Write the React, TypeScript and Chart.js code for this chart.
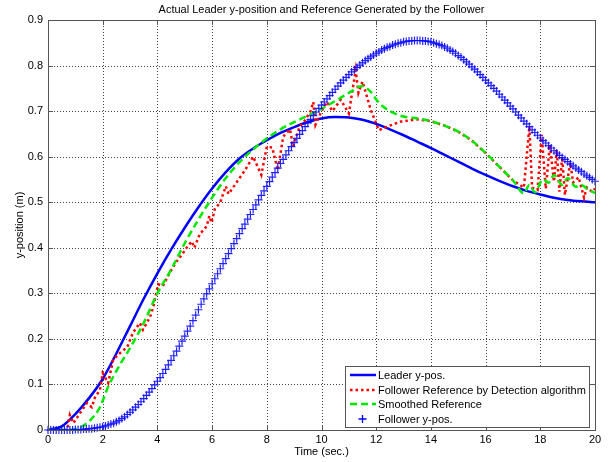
import React, { useEffect, useRef } from "react";
import { Chart, registerables } from "chart.js";
Chart.register(...registerables);

const TITLE = "Actual Leader y-position and Reference Generated by the Follower";
const X_LABEL = "Time (sec.)";
const Y_LABEL = "y-position (m)";
const X_TICKS = [0, 2, 4, 6, 8, 10, 12, 14, 16, 18, 20];
const Y_TICKS = [0, 0.1, 0.2, 0.3, 0.4, 0.5, 0.6, 0.7, 0.8, 0.9];
const Y_TICK_LABELS = ["0", "0.1", "0.2", "0.3", "0.4", "0.5", "0.6", "0.7", "0.8", "0.9"];

const LEADER_LABEL = "Leader y-pos.";
const DETECT_LABEL = "Follower Reference by Detection algorithm";
const SMOOTH_LABEL = "Smoothed Reference";
const FOLLOWER_LABEL = "Follower y-pos.";

// Leader y-position, sampled every 0.5 s
const leaderT = [0, 0.5, 1, 1.5, 2, 2.5, 3, 3.5, 4, 4.5, 5, 5.5, 6, 6.5, 7, 7.5, 8, 8.5, 9, 9.5, 10,
  10.5, 11, 11.5, 12, 12.5, 13, 13.5, 14, 14.5, 15, 15.5, 16, 16.5, 17, 17.5, 18, 18.5, 19, 19.5, 20];
const leaderY = [0, 0.008, 0.035, 0.07, 0.112, 0.168, 0.228, 0.288, 0.344, 0.396, 0.444, 0.489, 0.53,
  0.566, 0.596, 0.618, 0.636, 0.652, 0.665, 0.676, 0.684, 0.687, 0.686, 0.681, 0.672, 0.66, 0.647,
  0.633, 0.619, 0.604, 0.589, 0.574, 0.56, 0.547, 0.535, 0.525, 0.517, 0.51, 0.505, 0.502, 0.5];

// Follower reference from the detection algorithm
const detectT = [0, 0.7, 0.8, 0.93, 1.17, 1.42, 1.6, 1.72, 1.9, 2.0, 2.2, 2.38, 2.63, 2.9, 3.1, 3.36,
  3.47, 3.73, 3.85, 4.03, 4.2, 4.45, 4.7, 4.9, 5.1, 5.26, 5.35, 5.55, 5.8, 5.9, 5.98, 6.1, 6.3, 6.5,
  6.6, 6.9, 7.2, 7.5, 7.8, 8.0, 8.2, 8.4, 8.6, 8.85, 8.96, 9.2, 9.4, 9.6, 9.7, 9.78, 10.0, 10.2, 10.4,
  10.7, 11.0, 11.25, 11.35, 11.5, 11.8, 12.1, 12.4, 12.9, 13.5, 14.0, 14.5, 15.0, 15.5, 16.0, 16.5,
  17.0, 17.4, 17.6, 17.7, 17.9, 18.05, 18.2, 18.35, 18.5, 18.6, 18.7, 18.8, 18.9, 19.1, 19.2, 19.4,
  19.6, 19.7, 19.9, 20.0];
const detectY = [0, 0, 0.033, 0.015, 0.037, 0.059, 0.05, 0.072, 0.088, 0.125, 0.103, 0.154, 0.169,
  0.182, 0.213, 0.235, 0.22, 0.248, 0.27, 0.32, 0.316, 0.345, 0.37, 0.385, 0.403, 0.414, 0.4, 0.43,
  0.447, 0.47, 0.455, 0.485, 0.5, 0.535, 0.518, 0.544, 0.57, 0.6, 0.56, 0.622, 0.62, 0.57, 0.644,
  0.66, 0.622, 0.666, 0.68, 0.7, 0.72, 0.67, 0.7, 0.72, 0.7, 0.725, 0.695, 0.79, 0.74, 0.765, 0.703,
  0.658, 0.666, 0.677, 0.682, 0.678, 0.668, 0.655, 0.635, 0.608, 0.578, 0.548, 0.532, 0.666, 0.532,
  0.527, 0.648, 0.53, 0.626, 0.545, 0.615, 0.523, 0.6, 0.516, 0.587, 0.543, 0.555, 0.51, 0.532, 0.523,
  0.53];

// Smoothed reference
const smoothT = [0, 0.5, 1.0, 1.3, 1.6, 1.9, 2.2, 2.6, 3.0, 3.5, 4.0, 4.5, 5.0, 5.5, 6.0, 6.5, 7.0, 7.5,
  8.0, 8.5, 9.0, 9.5, 10.0, 10.5, 11.0, 11.5, 11.8, 12.1, 12.5, 13.0, 13.5, 14.0, 14.5, 15.0, 15.5,
  16.0, 16.5, 17.0, 17.4, 17.6, 17.8, 18.1, 18.3, 18.5, 18.8, 19.0, 19.3, 19.5, 19.7, 20.0];
const smoothY = [0, 0, 0.002, 0.01, 0.025, 0.05, 0.095, 0.14, 0.18, 0.235, 0.3, 0.352, 0.41, 0.462,
  0.51, 0.553, 0.588, 0.616, 0.64, 0.66, 0.676, 0.69, 0.705, 0.722, 0.74, 0.755, 0.742, 0.718, 0.7,
  0.688, 0.684, 0.678, 0.668, 0.655, 0.635, 0.608, 0.578, 0.548, 0.52, 0.538, 0.522, 0.55, 0.543,
  0.56, 0.538, 0.553, 0.534, 0.538, 0.53, 0.52];

// Follower y-position, sampled every 0.1 s from 0 to 20 s
const FOLLOWER_DT = 0.1;
const followerY = [
  0, 0, 0, 0, 0, 0, 0, 0, 0, 0, 0.001,
  0.001, 0.001, 0.002, 0.002, 0.003, 0.003, 0.004, 0.005, 0.006, 0.007,
  0.009, 0.011, 0.013, 0.015, 0.018, 0.021, 0.025, 0.029, 0.034, 0.039,
  0.044, 0.05, 0.056, 0.062, 0.069, 0.076, 0.083, 0.091, 0.099, 0.107,
  0.115, 0.124, 0.133, 0.143, 0.153, 0.163, 0.173, 0.184, 0.195, 0.206,
  0.217, 0.228, 0.24, 0.252, 0.264, 0.276, 0.288, 0.299, 0.31, 0.321,
  0.332, 0.343, 0.354, 0.365, 0.376, 0.387, 0.398, 0.409, 0.42, 0.431,
  0.442, 0.452, 0.463, 0.473, 0.484, 0.494, 0.505, 0.515, 0.525, 0.535,
  0.545, 0.555, 0.565, 0.575, 0.585, 0.594, 0.604, 0.613, 0.622, 0.631,
  0.64, 0.649, 0.657, 0.666, 0.674, 0.682, 0.69, 0.698, 0.706, 0.713,
  0.72, 0.727, 0.734, 0.741, 0.748, 0.755, 0.762, 0.768, 0.774, 0.78,
  0.786, 0.791, 0.796, 0.801, 0.806, 0.811, 0.815, 0.819, 0.823, 0.827,
  0.83, 0.834, 0.837, 0.84, 0.842, 0.845, 0.847, 0.849, 0.85, 0.852,
  0.853, 0.854, 0.854, 0.855, 0.855, 0.855, 0.854, 0.854, 0.853, 0.852,
  0.85, 0.848, 0.846, 0.844, 0.841, 0.838, 0.834, 0.831, 0.827, 0.822,
  0.818, 0.813, 0.808, 0.803, 0.797, 0.792, 0.786, 0.78, 0.774, 0.768,
  0.762, 0.756, 0.75, 0.744, 0.737, 0.731, 0.724, 0.718, 0.711, 0.705,
  0.698, 0.691, 0.685, 0.678, 0.672, 0.666, 0.659, 0.653, 0.647, 0.641,
  0.635, 0.63, 0.624, 0.619, 0.613, 0.608, 0.603, 0.598, 0.594, 0.589,
  0.584, 0.58, 0.575, 0.571, 0.567, 0.562, 0.558, 0.554, 0.55, 0.546,
];

const FONT = "'Liberation Sans', Arial, sans-serif";
const BLUE = "#0000ff";
const RED = "#ff0000";
const GREEN = "#00e800";

const pts = (t: number[], y: number[]) => t.map((v, i) => ({ x: v, y: y[i] }));

const decorPlugin = {
  id: "decor",
  beforeDatasetsDraw(chart: any) {
    const { ctx, chartArea: a, scales } = chart;
    ctx.save();
    ctx.strokeStyle = "#444";
    ctx.lineWidth = 1;
    ctx.setLineDash([1, 2]);
    for (const v of X_TICKS) {
      const x = Math.round(scales.x.getPixelForValue(v)) + 0.5;
      if (x <= a.left + 1 || x >= a.right - 1) continue;
      ctx.beginPath();
      ctx.moveTo(x, a.top);
      ctx.lineTo(x, a.bottom);
      ctx.stroke();
    }
    for (const v of Y_TICKS) {
      const y = Math.round(scales.y.getPixelForValue(v)) + 0.5;
      if (y <= a.top + 1 || y >= a.bottom - 1) continue;
      ctx.beginPath();
      ctx.moveTo(a.left, y);
      ctx.lineTo(a.right, y);
      ctx.stroke();
    }
    ctx.setLineDash([]);
    ctx.strokeStyle = "#555";
    for (const v of X_TICKS) {
      const x = Math.round(scales.x.getPixelForValue(v)) + 0.5;
      ctx.beginPath();
      ctx.moveTo(x, a.bottom);
      ctx.lineTo(x, a.bottom - 5);
      ctx.moveTo(x, a.top);
      ctx.lineTo(x, a.top + 5);
      ctx.stroke();
    }
    for (const v of Y_TICKS) {
      const y = Math.round(scales.y.getPixelForValue(v)) + 0.5;
      ctx.beginPath();
      ctx.moveTo(a.left, y);
      ctx.lineTo(a.left + 5, y);
      ctx.moveTo(a.right, y);
      ctx.lineTo(a.right - 5, y);
      ctx.stroke();
    }
    ctx.restore();
  },
  afterDraw(chart: any) {
    const { ctx, chartArea: a } = chart;
    ctx.save();
    ctx.strokeStyle = "#555";
    ctx.lineWidth = 1;
    ctx.strokeRect(Math.round(a.left) + 0.5, Math.round(a.top) + 0.5,
      Math.round(a.right - a.left), Math.round(a.bottom - a.top));
    ctx.fillStyle = "#000";
    ctx.font = `11px ${FONT}`;
    ctx.textAlign = "center";
    ctx.textBaseline = "middle";
    const cx = (a.left + a.right) / 2;
    ctx.fillText(TITLE, cx, 10);
    ctx.fillText(X_LABEL, cx, 452);
    ctx.save();
    ctx.translate(20, (a.top + a.bottom) / 2);
    ctx.rotate(-Math.PI / 2);
    ctx.fillText(Y_LABEL, 0, 0);
    ctx.restore();

    const bx = 345.5, by = 366.5, bw = 244, bh = 61;
    ctx.fillStyle = "#fff";
    ctx.fillRect(bx, by, bw, bh);
    ctx.strokeStyle = "#555";
    ctx.strokeRect(bx, by, bw, bh);
    const rows = chart.data.datasets;
    const rowY = [375, 390, 404, 419];
    ctx.textAlign = "left";
    rows.forEach((ds: any, i: number) => {
      const y = rowY[i];
      if (ds.showLine === false) {
        ctx.strokeStyle = BLUE;
        ctx.lineWidth = 1.3;
        const mx = 362.5;
        ctx.beginPath();
        ctx.moveTo(mx - 4, y);
        ctx.lineTo(mx + 4, y);
        ctx.moveTo(mx, y - 4);
        ctx.lineTo(mx, y + 4);
        ctx.stroke();
      } else {
        ctx.strokeStyle = ds.borderColor;
        ctx.lineWidth = ds.borderWidth;
        ctx.setLineDash(ds.borderDash || []);
        ctx.beginPath();
        ctx.moveTo(350, y);
        ctx.lineTo(376, y);
        ctx.stroke();
        ctx.setLineDash([]);
      }
      ctx.fillStyle = "#000";
      ctx.fillText(ds.label, 378, y + 0.5);
    });
    ctx.restore();
  },
};

export default function App() {
  const ref = useRef<HTMLCanvasElement | null>(null);
  useEffect(() => {
    document.body.style.margin = "0";
    const canvas = ref.current!;
    const followerPts = followerY.map((y, i) => ({ x: Math.round(i * FOLLOWER_DT * 10) / 10, y }));
    const chart = new Chart(canvas, {
      type: "line",
      data: {
        datasets: [
          {
            label: LEADER_LABEL,
            data: pts(leaderT, leaderY),
            borderColor: BLUE,
            backgroundColor: BLUE,
            borderWidth: 2.5,
            pointRadius: 0,
            cubicInterpolationMode: "monotone",
            order: 4,
          },
          {
            label: DETECT_LABEL,
            data: pts(detectT, detectY),
            borderColor: RED,
            backgroundColor: RED,
            borderWidth: 2.5,
            borderDash: [2.5, 3],
            pointRadius: 0,
            tension: 0,
            order: 3,
          },
          {
            label: SMOOTH_LABEL,
            data: pts(smoothT, smoothY),
            borderColor: GREEN,
            backgroundColor: GREEN,
            borderWidth: 2.5,
            borderDash: [7, 4],
            pointRadius: 0,
            cubicInterpolationMode: "monotone",
            order: 2,
          },
          {
            label: FOLLOWER_LABEL,
            data: followerPts,
            borderColor: "rgba(10,10,255,0.9)",
            backgroundColor: BLUE,
            showLine: false,
            pointStyle: "cross",
            pointRadius: 4,
            pointBorderWidth: 1.2,
            clip: 5,
            order: 1,
          },
        ],
      } as any,
      options: {
        responsive: false,
        animation: false,
        events: [],
        layout: { padding: { left: 0, top: 20, right: 13, bottom: 0 } },
        plugins: { legend: { display: false }, title: { display: false }, tooltip: { enabled: false } },
        scales: {
          x: {
            type: "linear",
            min: 0,
            max: 20,
            afterFit: (s: any) => { s.height = 32; },
            afterBuildTicks: (s: any) => { s.ticks = X_TICKS.map((v) => ({ value: v })); },
            grid: { display: false, drawTicks: false },
            border: { display: false },
            ticks: {
              color: "#000",
              font: { family: FONT, size: 11 },
              padding: 3,
              maxRotation: 0,
              autoSkip: false,
              callback: (v: any) => String(v),
            },
          },
          y: {
            type: "linear",
            min: 0,
            max: 0.9,
            afterFit: (s: any) => { s.width = 48; },
            afterBuildTicks: (s: any) => { s.ticks = Y_TICKS.map((v) => ({ value: v })); },
            grid: { display: false, drawTicks: false },
            border: { display: false },
            ticks: {
              color: "#000",
              font: { family: FONT, size: 11 },
              padding: 5,
              autoSkip: false,
              callback: (v: any) => {
                const i = Y_TICKS.findIndex((t) => Math.abs(t - Number(v)) < 1e-9);
                return i >= 0 ? Y_TICK_LABELS[i] : "";
              },
            },
          },
        },
      } as any,
      plugins: [decorPlugin],
    });
    return () => chart.destroy();
  }, []);
  return (
    <div style={{ width: 608, height: 462, background: "#fff" }}>
      <canvas ref={ref} width={608} height={462} style={{ display: "block" }} />
    </div>
  );
}
